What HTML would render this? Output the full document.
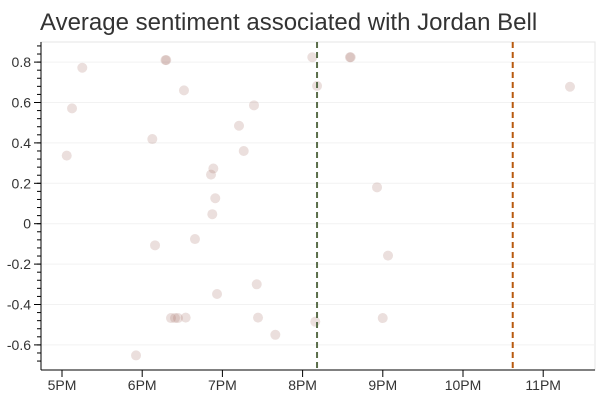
<!DOCTYPE html>
<html><head><meta charset="utf-8"><style>
body{margin:0;background:#fff;width:600px;height:400px;overflow:hidden;font-family:"Liberation Sans",sans-serif}
</style></head><body>
<svg id="chart" width="600" height="400" xmlns="http://www.w3.org/2000/svg">
<text x="40" y="30" font-size="24" fill="#333">Average sentiment associated with Jordan Bell</text>
<g id="grid"></g><g id="axes"></g><g id="marks"></g>
</svg>
<script>
const hours=[17.253,18.29,18.30,18.521,17.125,19.394,19.207,18.126,17.059,19.266,18.887,18.858,18.911,18.874,18.658,18.160,19.428,18.933,18.359,18.409,18.446,18.542,19.444,19.660,17.923,20.121,20.180,20.158,20.59,20.60,23.334,20.928,21.065,20.999];
const sentiment=[0.772,0.81,0.81,0.66,0.571,0.586,0.485,0.419,0.337,0.36,0.273,0.243,0.126,0.047,-0.076,-0.107,-0.30,-0.348,-0.467,-0.467,-0.467,-0.465,-0.465,-0.55,-0.652,0.824,0.682,-0.485,0.824,0.824,0.678,0.18,-0.158,-0.467];
const xTickHours=[17,18,19,20,21,22,23];
const xTickLabels=["5PM","6PM","7PM","8PM","9PM","10PM","11PM"];
const yTicks=[0.8,0.6,0.4,0.2,0,-0.2,-0.4,-0.6];
const eventHours=[20.18,22.62];
const eventColors=["#5a6e4a","#b85a10"];
const L=41,R=595,T=42,B=370;
const x=h=>62+(h-17)*80.2;
const y=v=>223.7-v*202;
const NS="http://www.w3.org/2000/svg";
function mk(p,tag,a){const e=document.createElementNS(NS,tag);for(const k in a)e.setAttribute(k,a[k]);p.appendChild(e);return e;}
const grid=document.getElementById('grid'),axes=document.getElementById('axes'),marks=document.getElementById('marks');
mk(grid,'rect',{x:L,y:T,width:R-L,height:B-T,fill:'none',stroke:'#e5e5e5'});
yTicks.forEach(v=>{const g=mk(grid,'line',{x1:L,x2:R,y1:y(v),y2:y(v),stroke:'#f2f2f2'});

});
const ya=mk(axes,'line',{x1:L,x2:L,y1:T,y2:B,stroke:'#000'});


for(let v=-0.68;v<=0.9;v+=0.04){const yy=y(v);if(yy<T||yy>B)continue;mk(axes,'line',{x1:L-4,x2:L,y1:yy,y2:yy,stroke:'#000'});}
yTicks.forEach(v=>{mk(axes,'line',{x1:L-7,x2:L,y1:y(v),y2:y(v),stroke:'#000'});
const t=mk(axes,'text',{x:L-10,y:y(v)+5,'text-anchor':'end','font-size':14,fill:'#333'});
t.textContent=(Math.round(v*10)/10).toString();

});
const xa=mk(axes,'line',{x1:L,x2:R,y1:B,y2:B,stroke:'#000'});


xTickHours.forEach((h,i)=>{mk(axes,'line',{x1:x(h),x2:x(h),y1:B,y2:B+7,stroke:'#000'});
const t=mk(axes,'text',{x:x(h),y:B+20,'text-anchor':'middle','font-size':14,fill:'#333'});
t.textContent=xTickLabels[i];

});
hours.forEach((h,i)=>{const c=mk(marks,'circle',{cx:x(h),cy:y(sentiment[i]),r:5,fill:'rgba(165,110,100,0.22)'});

});
eventHours.forEach((h,i)=>{const l=mk(marks,'line',{x1:x(h),x2:x(h),y1:T,y2:B,stroke:eventColors[i],'stroke-width':2,'stroke-dasharray':'6,4'});

});
</script>
</body></html>
